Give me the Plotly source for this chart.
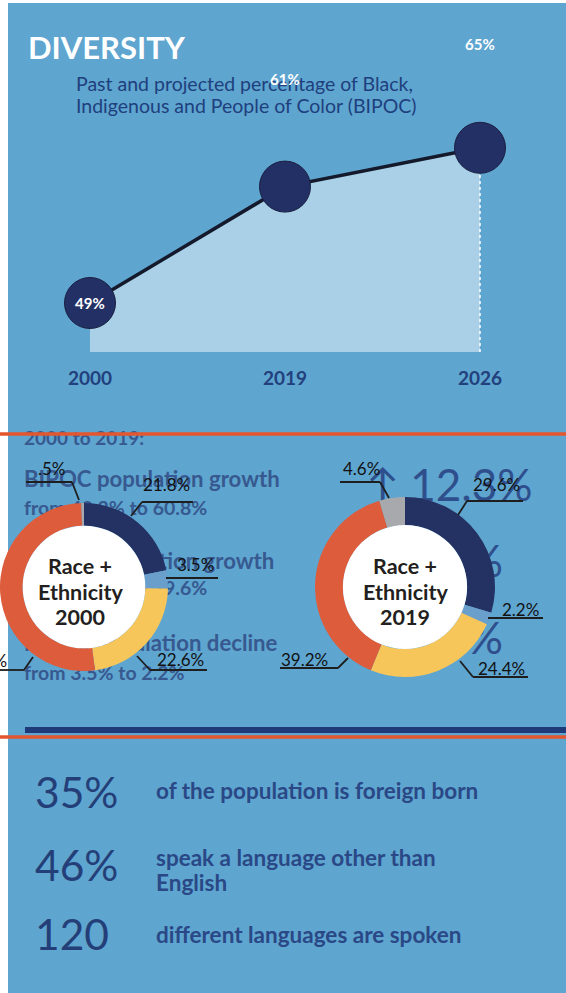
import plotly.graph_objects as go

# ---------------- data ----------------
YEARS = ["2000", "2019", "2026"]
BIPOC_PCT = [49, 61, 65]

SEGMENTS = ["Black", "Asian", "Latino", "White", "Other"]
RACE_2000 = [21.8, 3.5, 22.6, 51.6, 0.5]
RACE_2019 = [29.6, 2.2, 24.4, 39.2, 4.6]

STAT_VALUES = ["35%", "46%", "120"]
STAT_TEXTS = [["of the population is foreign born"],
              ["speak a language other than", "English"],
              ["different languages are spoken"]]

BG_LINES = ["2000 to 2019:", "BIPOC population growth", "from 49.2% to 60.8%",
            "Latino population growth", "from 21.8% to 29.6%",
            "Native population decline", "from 3.5% to 2.2%"]
BIG_LINES = ["\u2191 12.3%", "%", "%"]

# ---------------- styles ----------------
W, H = 566, 993
FONT = "Lato"
BLUE_BG = "#5ea5d0"
NAVY = "#233066"
TXT_NAVY = "#22407c"
FADED = "#37598f"
SLICE_COLORS = ["#243263", "#6a9fcb", "#f6c65b", "#dd5c3b", "#a8a9ad"]
FILL_BASE = 43.95
LABEL_YSHIFT = [0, 108, 104]


def fmt(v):
    s = f"{v}%"
    return s[1:] if s.startswith("0.") else s


def py(p):  # pixel -> paper y
    return 1 - p / H


fig = go.Figure()

# -------- line / area chart --------
xi = list(range(len(YEARS)))
fig.add_trace(go.Scatter(x=xi, y=[FILL_BASE] * len(xi), mode="lines",
                         line=dict(width=0), hoverinfo="skip", showlegend=False))
fig.add_trace(go.Scatter(x=xi, y=BIPOC_PCT, mode="lines", fill="tonexty",
                         fillcolor="#a9d0e6", line=dict(color="#141a2c", width=3.5),
                         hoverinfo="skip", showlegend=False))
fig.add_trace(go.Scatter(x=[xi[-1], xi[-1]], y=[FILL_BASE, BIPOC_PCT[-1]], mode="lines",
                         line=dict(color="white", width=1.5, dash="dot"),
                         hoverinfo="skip", showlegend=False))
fig.add_trace(go.Scatter(x=xi, y=BIPOC_PCT, mode="markers",
                         marker=dict(size=51, color=NAVY, line=dict(color="#1b2040", width=1)),
                         hoverinfo="skip", showlegend=False))

# -------- faded background text (under the donuts) --------
bg_y = [440, 481, 510, 563, 590, 645, 675]
bg_size = [19, 22.2, 19.5, 22.2, 19.5, 22.2, 19.5]
for t, yy, s in zip(BG_LINES, bg_y, bg_size):
    fig.add_trace(go.Scatter(x=[24], y=[yy], mode="text", text=[t], textposition="middle right",
                             textfont=dict(family=FONT, size=s, color=FADED, weight="bold"),
                             xaxis="x2", yaxis="y2", hoverinfo="skip", showlegend=False))
big_pos = [(366, 490, "middle right"), (503, 566, "middle left"), (503, 643, "middle left")]
for t, (xx, yy, tp) in zip(BIG_LINES, big_pos):
    fig.add_trace(go.Scatter(x=[xx], y=[yy], mode="text", text=[t], textposition=tp,
                             textfont=dict(family=FONT, size=44, color="#2f4f8c"),
                             xaxis="x2", yaxis="y2", hoverinfo="skip", showlegend=False))

shapes = []
annotations = []

# -------- donuts --------
def donut(vals, cx, cy, r, hole):
    fig.add_trace(go.Pie(values=vals, labels=SEGMENTS, sort=False, direction="clockwise",
                         rotation=0, hole=hole, textinfo="none", hoverinfo="skip",
                         marker=dict(colors=SLICE_COLORS, line=dict(width=0)),
                         domain=dict(x=[(cx - r) / W, (cx + r) / W],
                                     y=[py(cy + r), py(cy - r)]),
                         showlegend=False))
    rh = r * hole
    shapes.append(dict(type="circle", xref="x2", yref="y2", x0=cx - rh, x1=cx + rh,
                       y0=cy - rh, y1=cy + rh, fillcolor="white", line=dict(width=0),
                       layer="above"))

donut(RACE_2000, 84, 587, 84, 0.73)
donut(RACE_2019, 405, 587, 90, 0.69)

# background panel
shapes.insert(0, dict(type="rect", xref="paper", yref="paper", x0=8 / W, x1=1, y0=0, y1=py(3),
                      fillcolor=BLUE_BG, line=dict(width=0), layer="below"))


def pline(pts):
    for (x0, y0), (x1, y1) in zip(pts[:-1], pts[1:]):
        shapes.append(dict(type="line", xref="x2", yref="y2", x0=x0, y0=y0, x1=x1, y1=y1,
                           line=dict(color="#1e1e1e", width=1.8)))


def label(text, x, y, anchor="center"):
    annotations.append(dict(text=text, x=x, y=y, xref="x2", yref="y2", xanchor=anchor,
                            yanchor="middle", showarrow=False,
                            font=dict(family=FONT, size=17, color="#111111")))

# donut 2000 labels: order navy, light blue, yellow, red, gray
l2000 = [fmt(v) for v in RACE_2000]
label(l2000[0], 166, 484); pline([(193, 502), (142, 502), (131, 516)])
label(l2000[1], 195, 564); pline([(166, 578), (218, 578)])
label(l2000[2], 180, 659); pline([(207, 670), (150, 670), (137, 656)])
label(l2000[3], 9, 660, "right"); pline([(-5, 670), (24, 670), (33, 657)])
label(l2000[4], 52, 468); pline([(26, 482), (72, 482), (79, 500)])

l2019 = [fmt(v) for v in RACE_2019]
label(l2019[0], 496, 484); pline([(523, 501), (467, 501), (458, 515)])
label(l2019[1], 520, 609); pline([(488, 618), (543, 618)])
label(l2019[2], 501, 668); pline([(528, 677), (473, 677), (460, 661)])
label(l2019[3], 304, 659); pline([(280, 668), (338, 668), (348, 658)])
label(l2019[4], 361, 468); pline([(340, 482), (380, 482), (389, 498)])

for cx, yr in [(80, "2000"), (405, "2019")]:
    for k, t in enumerate(["Race +", "Ethnicity", yr]):
        annotations.append(dict(text=t, x=cx, y=566 + 25.5 * k, xref="x2", yref="y2",
                                showarrow=False, xanchor="center", yanchor="middle",
                                font=dict(family=FONT, size=21.5, color="#231f20", weight="bold")))

# separators
shapes.append(dict(type="rect", xref="x2", yref="y2", x0=25, x1=566, y0=727, y1=733,
                   fillcolor="#1f3a78", line=dict(width=0)))
for yy in [434, 737]:
    shapes.append(dict(type="line", xref="x2", yref="y2", x0=0, x1=566, y0=yy, y1=yy,
                       line=dict(color="#e4572e", width=3.5)))

# title
annotations.append(dict(text="DIVERSITY", x=26, y=47, xref="x2", yref="y2", xanchor="left",
                        yanchor="middle", showarrow=False,
                        font=dict(family=FONT, size=31, color="white", weight="bold")))
for t, yy in [("Past and projected percentage of Black,", 83),
              ("Indigenous and People of Color (BIPOC)", 105)]:
    annotations.append(dict(text=t, x=74, y=yy, xref="x2", yref="y2", xanchor="left",
                            yanchor="middle", showarrow=False,
                            font=dict(family=FONT, size=19.5, color="#203f7d")))

# line chart labels
for i, (yr, v) in enumerate(zip(YEARS, BIPOC_PCT)):
    annotations.append(dict(text=f"{v}%", x=i, y=v, xref="x", yref="y", showarrow=False,
                            yshift=LABEL_YSHIFT[i], xanchor="center", yanchor="middle",
                            font=dict(family=FONT, size=15, color="white", weight="bold")))
    annotations.append(dict(text=yr, x=i, y=py(378), xref="x", yref="paper", showarrow=False,
                            xanchor="center", yanchor="middle",
                            font=dict(family=FONT, size=19, color=TXT_NAVY, weight="bold")))

# stats
stat_y = [791, 864, 933]
text_y = [790, 857, 934]
for v, lines, y1, y2 in zip(STAT_VALUES, STAT_TEXTS, stat_y, text_y):
    annotations.append(dict(text=v, x=33, y=y1, xref="x2", yref="y2", xanchor="left",
                            yanchor="middle", showarrow=False,
                            font=dict(family=FONT, size=42.5, color="#243f78")))
    for k, t in enumerate(lines):
        annotations.append(dict(text=t, x=154, y=y2 + 25 * k, xref="x2", yref="y2", xanchor="left",
                                yanchor="middle", showarrow=False,
                                font=dict(family=FONT, size=22.5, color="#2a4886", weight="bold")))

fig.update_layout(
    width=W, height=H, margin=dict(l=0, r=0, t=0, b=0),
    paper_bgcolor="white", plot_bgcolor="rgba(0,0,0,0)",
    xaxis=dict(range=[-90 / 195, (W - 90) / 195], domain=[0, 1], visible=False, fixedrange=True),
    yaxis=dict(range=[49 - (H - 303) / 9.7, 49 + 303 / 9.7], domain=[0, 1], visible=False,
               fixedrange=True),
    xaxis2=dict(range=[0, W], domain=[0, 1], visible=False, anchor="y2", fixedrange=True),
    yaxis2=dict(range=[H, 0], domain=[0, 1], visible=False, anchor="x2", fixedrange=True),
    shapes=shapes, annotations=annotations, showlegend=False,
)

fig.write_html("out.html")
